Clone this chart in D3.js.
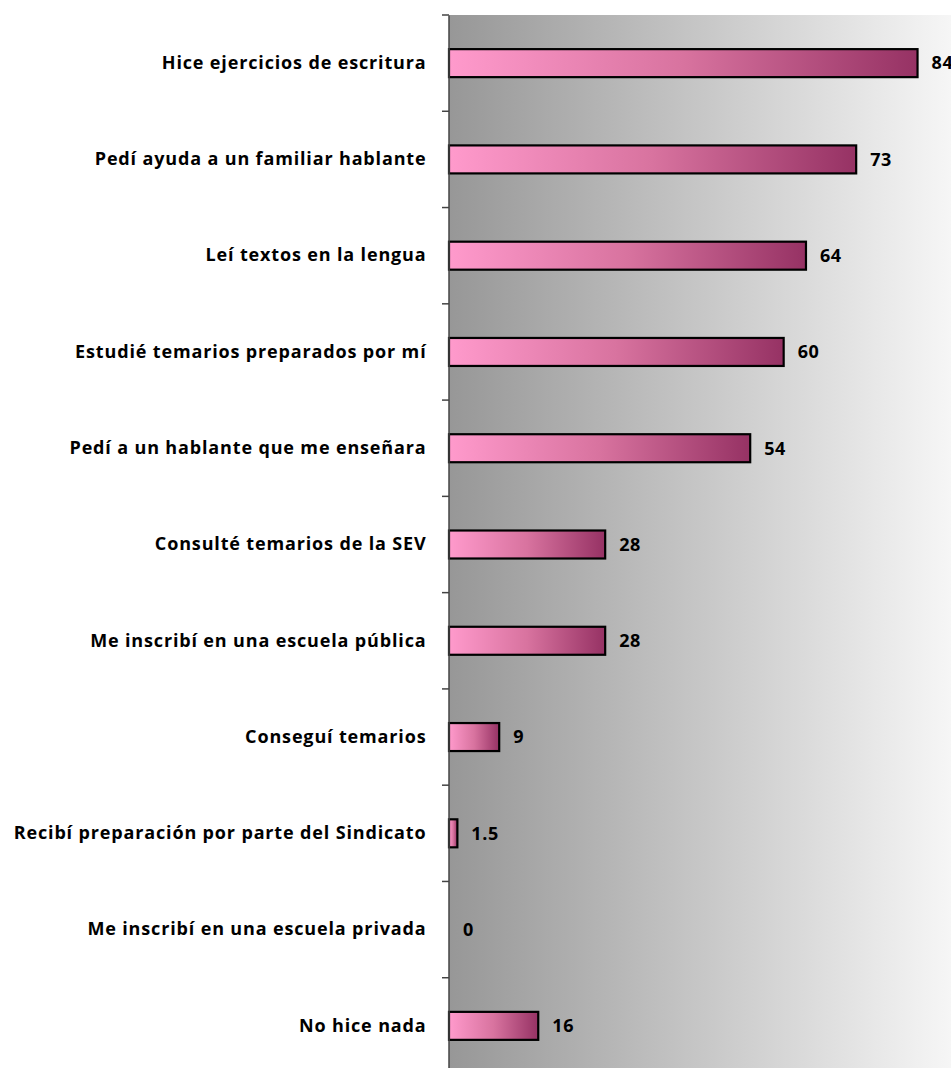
<!DOCTYPE html>
<html><head><meta charset="utf-8">
<script src="https://cdn.jsdelivr.net/npm/d3@7"></script>
<style>body{margin:0;background:#fff}svg{display:block}</style>
</head><body>
<script>
const categories = [
  "Hice ejercicios de escritura",
  "Pedí ayuda a un familiar hablante",
  "Leí textos en la lengua",
  "Estudié temarios preparados por mí",
  "Pedí a un hablante que me enseñara",
  "Consulté temarios de la SEV",
  "Me inscribí en una escuela pública",
  "Conseguí temarios",
  "Recibí preparación por parte del Sindicato",
  "Me inscribí en una escuela privada",
  "No hice nada"
];
const values = [84, 73, 64, 60, 54, 28, 28, 9, 1.5, 0, 16];
const valueLabels = ["84", "73", "64", "60", "54", "28", "28", "9", "1.5", "0", "16"];
const xDomain = [0, 90];

(function () {
const W = 951, H = 1068;
const mLeft = 449, mTop = 15, plotH = 1059;
const FONT = "'Open Sans', Lato, sans-serif";
const svg = d3.select("body").append("svg").attr("width", W).attr("height", H);
const defs = svg.append("defs");
const bg = defs.append("linearGradient").attr("id", "bg").attr("x1", "0").attr("x2", "1").attr("y1", "0").attr("y2", "0");
bg.append("stop").attr("offset", "0").attr("stop-color", "#979797");
bg.append("stop").attr("offset", "1").attr("stop-color", "#f6f6f6");
const bar = defs.append("linearGradient").attr("id", "bar").attr("x1", "0").attr("x2", "1").attr("y1", "0").attr("y2", "0");
bar.append("stop").attr("offset", "0").attr("stop-color", "#ff9acc");
bar.append("stop").attr("offset", "0.5").attr("stop-color", "#d8739f");
bar.append("stop").attr("offset", "1").attr("stop-color", "#963264");

const x = d3.scaleLinear().domain(xDomain).range([mLeft, W]);
const yb = d3.scaleBand().domain(categories).range([mTop, mTop + plotH]);

svg.append("rect").attr("x", mLeft).attr("y", mTop).attr("width", W - mLeft).attr("height", plotH).attr("fill", "url(#bg)");

const rows = categories.map((c, i) => ({c, v: values[i], lab: valueLabels[i]}));

svg.selectAll("rect.bar").data(rows.filter(d => d.v > 0)).enter().append("rect")
  .attr("class", "bar")
  .attr("x", x(0))
  .attr("y", d => yb(d.c) + yb.bandwidth() / 2 - 14)
  .attr("width", d => x(d.v) - x(0))
  .attr("height", 28)
  .attr("fill", "url(#bar)")
  .attr("stroke", "#000").attr("stroke-width", 2.2);

const yAxis = d3.axisLeft(yb).tickSize(0).tickPadding(22);
const ag = svg.append("g").attr("transform", `translate(${mLeft - 0.5},0)`).call(yAxis);
ag.select(".domain").attr("stroke", "#444").attr("stroke-width", 1.5);
ag.selectAll("text").attr("font-family", FONT).attr("font-weight", "bold")
  .attr("font-size", 18).attr("letter-spacing", 0.85).attr("fill", "#000");
const bounds = categories.map(c => yb(c)).concat([mTop + plotH]);
svg.append("g").selectAll("line").data(bounds).enter().append("line")
  .attr("x1", mLeft - 7).attr("x2", mLeft).attr("y1", d => d).attr("y2", d => d)
  .attr("stroke", "#444").attr("stroke-width", 1.5);

svg.append("g").selectAll("text").data(rows).enter().append("text")
  .attr("x", d => x(d.v) + 14)
  .attr("y", d => yb(d.c) + yb.bandwidth() / 2)
  .attr("dy", "0.35em")
  .attr("font-family", FONT).attr("font-weight", "bold")
  .attr("font-size", 18).attr("letter-spacing", 0.6).attr("fill", "#000")
  .text(d => d.lab);
})();
</script>
</body></html>
